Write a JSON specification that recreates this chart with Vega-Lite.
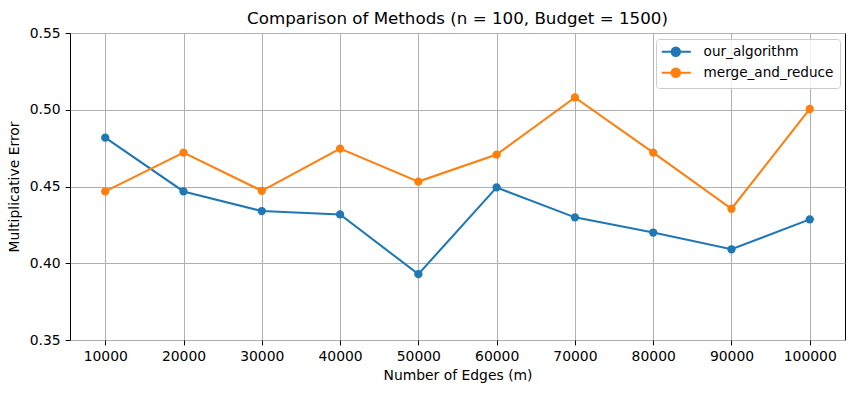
{
  "$schema": "https://vega.github.io/schema/vega-lite/v6.json",
  "width": 775,
  "height": 307,
  "autosize": {"type": "none"},
  "padding": {"left": 70, "top": 33, "right": 9, "bottom": 53},
  "background": "white",
  "title": {
    "text": "Comparison of Methods (n = 100, Budget = 1500)",
    "font": "DejaVu Sans",
    "fontSize": 16.7,
    "fontWeight": "normal",
    "color": "black",
    "offset": -2,
    "anchor": "middle"
  },
  "config": {
    "view": {"stroke": "black", "strokeWidth": 1},
    "font": "DejaVu Sans",
    "axis": {
      "labelFont": "DejaVu Sans",
      "titleFont": "DejaVu Sans",
      "labelFontSize": 13.9,
      "titleFontSize": 13.9,
      "titleFontWeight": "normal",
      "labelColor": "black",
      "titleColor": "black",
      "tickColor": "black",
      "tickSize": 4.9,
      "tickWidth": 1,
      "domain": false,
      "labelPadding": 4.9,
      "gridColor": "#b0b0b0",
      "gridWidth": 1
    }
  },
  "data": {
    "values": [
      {"m": 10000, "method": "our_algorithm", "error": 0.4818},
      {"m": 20000, "method": "our_algorithm", "error": 0.4468},
      {"m": 30000, "method": "our_algorithm", "error": 0.4340},
      {"m": 40000, "method": "our_algorithm", "error": 0.4318},
      {"m": 50000, "method": "our_algorithm", "error": 0.3929},
      {"m": 60000, "method": "our_algorithm", "error": 0.4494},
      {"m": 70000, "method": "our_algorithm", "error": 0.4299},
      {"m": 80000, "method": "our_algorithm", "error": 0.4200},
      {"m": 90000, "method": "our_algorithm", "error": 0.4091},
      {"m": 100000, "method": "our_algorithm", "error": 0.4286},
      {"m": 10000, "method": "merge_and_reduce", "error": 0.4468},
      {"m": 20000, "method": "merge_and_reduce", "error": 0.4721},
      {"m": 30000, "method": "merge_and_reduce", "error": 0.4472},
      {"m": 40000, "method": "merge_and_reduce", "error": 0.4747},
      {"m": 50000, "method": "merge_and_reduce", "error": 0.4532},
      {"m": 60000, "method": "merge_and_reduce", "error": 0.4708},
      {"m": 70000, "method": "merge_and_reduce", "error": 0.5080},
      {"m": 80000, "method": "merge_and_reduce", "error": 0.4721},
      {"m": 90000, "method": "merge_and_reduce", "error": 0.4355},
      {"m": 100000, "method": "merge_and_reduce", "error": 0.5005}
    ]
  },
  "mark": {
    "type": "line",
    "strokeWidth": 2.08,
    "point": {"filled": true, "size": 69, "opacity": 1}
  },
  "encoding": {
    "x": {
      "field": "m",
      "type": "quantitative",
      "title": "Number of Edges (m)",
      "scale": {"domain": [5500, 104500], "nice": false, "zero": false},
      "axis": {
        "values": [10000, 20000, 30000, 40000, 50000, 60000, 70000, 80000, 90000, 100000],
        "format": "d",
        "titlePadding": 5
      }
    },
    "y": {
      "field": "error",
      "type": "quantitative",
      "title": "Multiplicative Error",
      "scale": {"domain": [0.35, 0.55], "nice": false, "zero": false},
      "axis": {
        "values": [0.35, 0.4, 0.45, 0.5, 0.55],
        "format": ".2f",
        "titlePadding": 8
      }
    },
    "color": {
      "field": "method",
      "type": "nominal",
      "scale": {
        "domain": ["our_algorithm", "merge_and_reduce"],
        "range": ["#1f77b4", "#ff7f0e"]
      },
      "legend": {
        "title": null,
        "orient": "none",
        "legendX": 586,
        "legendY": 6,
        "padding": 6,
        "fillColor": "rgba(255,255,255,0.8)",
        "strokeColor": "#cccccc",
        "cornerRadius": 3,
        "labelFont": "DejaVu Sans",
        "labelFontSize": 13.6,
        "labelColor": "black",
        "rowPadding": 3,
        "labelOffset": 28,
        "symbolType": "M-1.4,0H4.4M2.24,0A0.84,0.84 0 1,1 0.56,0A0.84,0.84 0 1,1 2.24,0Z",
        "symbolSize": 100,
        "symbolStrokeWidth": 2.08,
        "symbolOpacity": 1
      }
    }
  }
}
